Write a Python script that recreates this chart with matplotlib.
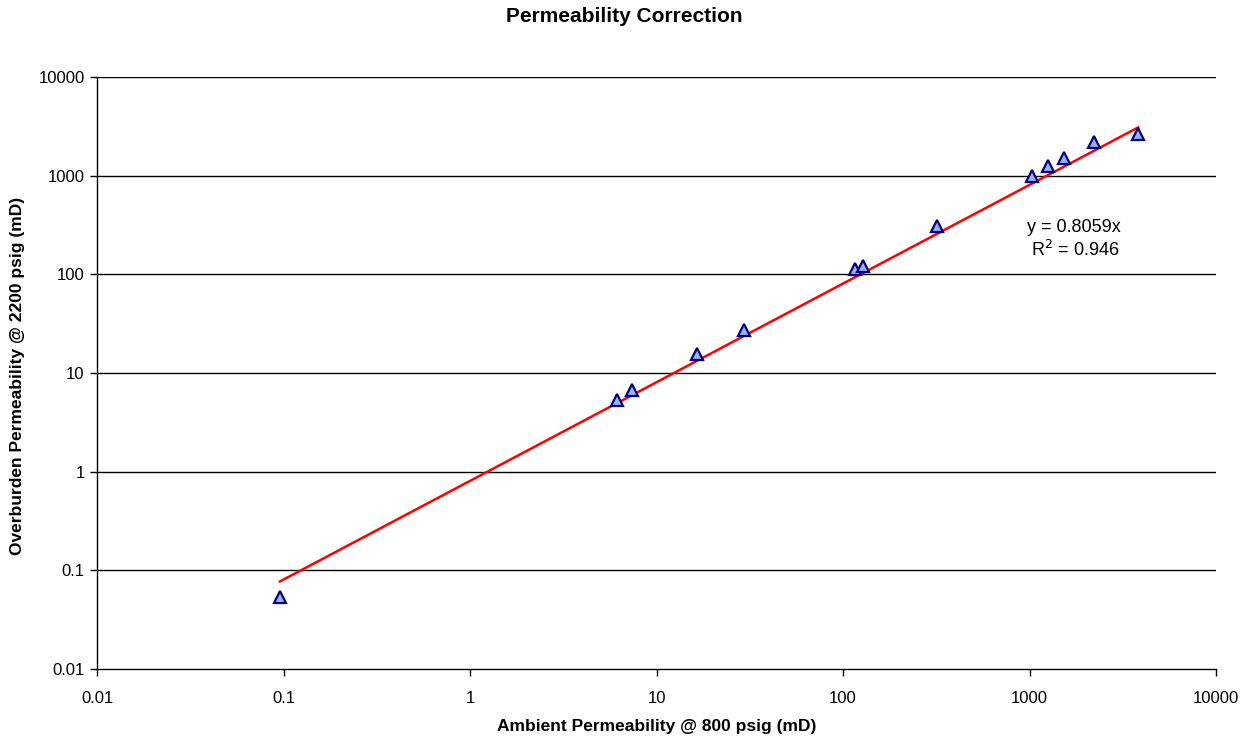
import matplotlib
matplotlib.use("Agg")
import matplotlib.pyplot as plt
from matplotlib.ticker import FixedLocator, FuncFormatter, NullLocator
import numpy as np

plt.rcParams['font.family'] = ['Liberation Sans', 'DejaVu Sans']

# Core plug permeabilities (mD)
ambient_perm = [0.0957, 6.14, 7.40, 16.5, 29.4, 115.8, 128, 319, 1031, 1256, 1531, 2218, 3820]
overburden_perm = [0.0537, 5.33, 6.73, 15.6, 27.3, 113, 122, 309, 993, 1253, 1510, 2193, 2642]

# Zero-intercept linear trend
slope = 0.8059
r_squared = 0.946

decade_ticks = [0.01, 0.1, 1, 10, 100, 1000, 10000]

W, H = 1249, 737
fig = plt.figure(figsize=(W / 100, H / 100), dpi=100)
ax = fig.add_axes([97 / W, 1 - 669 / H, (1216 - 97) / W, (669 - 77) / H])

ax.set_xscale('log')
ax.set_yscale('log')
ax.set_xlim(0.01, 10000)
ax.set_ylim(0.01, 10000)

for yv in decade_ticks[1:]:
    ax.axhline(yv, color='black', lw=1.0, zorder=1)

x_fit = np.array([min(ambient_perm), max(ambient_perm)])
ax.plot(x_fit, slope * x_fit, color='#ff0000', lw=1.8, zorder=2)

ax.plot(ambient_perm, overburden_perm, linestyle='none', marker='^',
        markersize=8, markerfacecolor='#99b3e6', markeredgecolor='#000080',
        markeredgewidth=1.6, zorder=3)

ax.xaxis.set_major_locator(FixedLocator(decade_ticks))
ax.yaxis.set_major_locator(FixedLocator(decade_ticks))
ax.xaxis.set_minor_locator(NullLocator())
ax.yaxis.set_minor_locator(NullLocator())
fmt = FuncFormatter(lambda v, p: f'{v:g}')
ax.xaxis.set_major_formatter(fmt)
ax.yaxis.set_major_formatter(fmt)
ax.tick_params(axis='both', which='major', direction='out', length=5, width=1,
               labelsize=12, color='black')
ax.tick_params(axis='x', pad=11)
ax.tick_params(axis='y', pad=4)

for side in ('top', 'right'):
    ax.spines[side].set_visible(False)
for side in ('left', 'bottom'):
    ax.spines[side].set_linewidth(1.0)
    ax.spines[side].set_color('black')

fig.text(657 / W, 1 - 726 / H, 'Ambient Permeability @ 800 psig (mD)', ha='center',
         va='center', fontsize=12.5, fontweight='bold')
fig.text(18 / W, 1 - 376 / H, 'Overburden Permeability @ 2200 psig (mD)', ha='center',
         va='center', rotation=90, fontsize=12.5, fontweight='bold')
fig.text(0.5, 1 - 16 / H, 'Permeability Correction', ha='center', va='center',
         fontsize=15, fontweight='bold')

fig.text(1074 / W, 1 - 228 / H, f'y = {slope}x', ha='center', va='center', fontsize=13)
fig.text(1075 / W, 1 - 250 / H, f'R$^2$ = {r_squared}', ha='center', va='center', fontsize=13)

fig.savefig('out.png', dpi=100)
